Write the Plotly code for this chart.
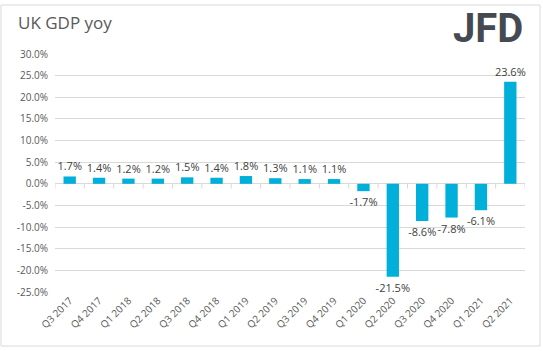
import plotly.graph_objects as go

quarters = ["Q3 2017", "Q4 2017", "Q1 2018", "Q2 2018", "Q3 2018", "Q4 2018",
            "Q1 2019", "Q2 2019", "Q3 2019", "Q4 2019", "Q1 2020", "Q2 2020",
            "Q3 2020", "Q4 2020", "Q1 2021", "Q2 2021"]
gdp_yoy = [1.7, 1.4, 1.2, 1.2, 1.5, 1.4, 1.8, 1.3, 1.1, 1.1, -1.7, -21.5,
           -8.6, -7.8, -6.1, 23.6]
y_ticks = [-25, -20, -15, -10, -5, 0, 5, 10, 15, 20, 25, 30]

W, H = 543, 351
ML, MR, MT, MB = 55, 18, 54, 59
pw, ph = W - ML - MR, H - MT - MB

def px_x(p):
    return (p - ML) / pw

def px_y(p):
    return (H - MB - p) / ph

fig = go.Figure()
fig.add_trace(go.Bar(
    x=quarters, y=gdp_yoy,
    marker=dict(color="#00b0db", line=dict(width=0)),
    text=[f"{v:.1f}%" for v in gdp_yoy],
    textposition="outside",
    constraintext="none",
    textfont=dict(family="Open Sans", size=11, color="#404040"),
    cliponaxis=False,
))

shapes = [dict(type="rect", xref="paper", yref="paper",
               x0=px_x(1), x1=px_x(540), y0=px_y(346), y1=px_y(5),
               line=dict(color="#d9d9d9", width=1), layer="below")]
for i in range(len(quarters) + 1):
    shapes.append(dict(type="line", xref="x", yref="y",
                       x0=i - 0.5, x1=i - 0.5, y0=0, y1=-1.1,
                       line=dict(color="#d9d9d9", width=1)))

fig.update_layout(
    width=W, height=H,
    margin=dict(l=ML, r=MR, t=MT, b=MB),
    paper_bgcolor="white", plot_bgcolor="white",
    bargap=0.58,
    showlegend=False,
    font=dict(family="Open Sans", color="#595959"),
    xaxis=dict(type="category", tickangle=-45, showgrid=False, ticks="",
               tickfont=dict(size=10, color="#595959"), showline=False,
               range=[-0.5, len(quarters) - 0.5]),
    yaxis=dict(range=[-25, 30], tickvals=y_ticks,
               ticktext=[f"{v:.1f}%" for v in y_ticks],
               tickfont=dict(size=10, color="#595959"),
               gridcolor="#d9d9d9", gridwidth=1, zeroline=True,
               zerolinecolor="#d9d9d9", zerolinewidth=1, showline=False,
               ticks="", ticklabelstandoff=6),
    shapes=shapes,
    annotations=[
        dict(text="UK GDP yoy", xref="paper", yref="paper",
             x=px_x(16), y=px_y(22), xanchor="left", yanchor="middle",
             showarrow=False, font=dict(family="Open Sans", size=17, color="#595959")),
        dict(text="<b>JFD</b>", xref="paper", yref="paper",
             x=px_x(488), y=px_y(29), xanchor="center", yanchor="middle",
             showarrow=False, font=dict(family="Roboto", size=40, color="#454a52")),
    ],
)

fig.write_html("out.html")
